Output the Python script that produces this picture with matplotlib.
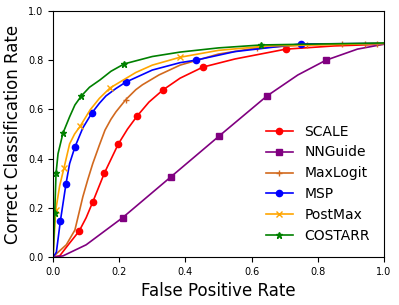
import matplotlib
matplotlib.use("Agg")
import matplotlib.pyplot as plt

# SCALE
scale_fpr = [0, 0.02, 0.05, 0.079, 0.1, 0.12, 0.155, 0.197, 0.225, 0.254, 0.29, 0.332, 0.384, 0.453, 0.55, 0.704, 0.85, 1.0]
scale_ccr = [0, 0.005, 0.057, 0.106, 0.16, 0.224, 0.341, 0.459, 0.52, 0.573, 0.63, 0.679, 0.727, 0.772, 0.805, 0.845, 0.858, 0.865]
scale_marks = [3, 5, 6, 7, 9, 11, 13, 15]

# NNGuide
nng_fpr = [0, 0.03, 0.1, 0.21, 0.357, 0.43, 0.503, 0.646, 0.74, 0.825, 0.92, 1.0]
nng_ccr = [0, 0.005, 0.05, 0.16, 0.327, 0.41, 0.493, 0.654, 0.74, 0.80, 0.845, 0.865]
nng_marks = [3, 4, 6, 7, 9]

# MaxLogit
ml_fpr = [0, 0.012, 0.04, 0.066, 0.09, 0.105, 0.12, 0.14, 0.157, 0.175, 0.19, 0.22, 0.25, 0.27, 0.32, 0.384, 0.5, 0.616, 0.767, 0.873, 0.943, 0.98, 1.0]
ml_ccr = [0, 0.016, 0.05, 0.11, 0.245, 0.315, 0.38, 0.455, 0.516, 0.56, 0.59, 0.64, 0.68, 0.70, 0.74, 0.78, 0.825, 0.85, 0.862, 0.866, 0.867, 0.867, 0.867]
ml_marks = [11, 17, 18, 19, 20, 21]

# MSP
msp_fpr = [0, 0.01, 0.022, 0.039, 0.05, 0.066, 0.09, 0.117, 0.14, 0.16, 0.19, 0.22, 0.3, 0.384, 0.431, 0.55, 0.749, 1.0]
msp_ccr = [0, 0.02, 0.146, 0.297, 0.38, 0.447, 0.525, 0.585, 0.625, 0.655, 0.685, 0.711, 0.76, 0.79, 0.80, 0.835, 0.866, 0.868]
msp_marks = [2, 3, 5, 7, 11, 14, 16]

# PostMax
pm_fpr = [0, 0.008, 0.02, 0.033, 0.05, 0.065, 0.082, 0.112, 0.14, 0.172, 0.25, 0.3, 0.384, 0.5, 0.65, 1.0]
pm_ccr = [0, 0.19, 0.29, 0.362, 0.46, 0.50, 0.532, 0.598, 0.645, 0.687, 0.75, 0.78, 0.812, 0.84, 0.858, 0.868]
pm_marks = [1, 3, 6, 9, 12]

# COSTARR
cs_fpr = [0, 0.003, 0.005, 0.009, 0.015, 0.03, 0.05, 0.066, 0.085, 0.11, 0.142, 0.175, 0.215, 0.3, 0.384, 0.5, 0.63, 1.0]
cs_ccr = [0, 0.1, 0.18, 0.34, 0.42, 0.504, 0.57, 0.618, 0.654, 0.69, 0.72, 0.755, 0.785, 0.815, 0.833, 0.85, 0.862, 0.87]
cs_marks = [2, 3, 5, 8, 12, 16]

fig = plt.figure(figsize=(3.99, 3.05), dpi=100)
ax = fig.add_axes([0.133, 0.157, 0.829, 0.807])

lw = 1.2
ax.plot(scale_fpr, scale_ccr, color='red', marker='o', markersize=4.5, markevery=scale_marks, linewidth=lw, label="SCALE")
ax.plot(nng_fpr, nng_ccr, color='purple', marker='s', markersize=4.5, markevery=nng_marks, linewidth=lw, label="NNGuide")
ax.plot(ml_fpr, ml_ccr, color='chocolate', marker='+', markersize=5, markevery=ml_marks, linewidth=lw, label="MaxLogit")
ax.plot(msp_fpr, msp_ccr, color='blue', marker='o', markersize=4.5, markevery=msp_marks, linewidth=lw, label="MSP")
ax.plot(pm_fpr, pm_ccr, color='orange', marker='x', markersize=4.5, markevery=pm_marks, linewidth=lw, label="PostMax")
ax.plot(cs_fpr, cs_ccr, color='green', marker='*', markersize=5, markevery=cs_marks, linewidth=lw, label="COSTARR")

ax.set_xlim(0, 1)
ax.set_ylim(0, 1)
ax.set_xticks([0, 0.2, 0.4, 0.6, 0.8, 1.0])
ax.set_yticks([0, 0.2, 0.4, 0.6, 0.8, 1.0])
ax.tick_params(labelsize=7)
ax.set_xlabel("False Positive Rate", fontsize=12)
ax.set_ylabel("Correct Classification Rate", fontsize=12)
ax.legend(loc='lower right', frameon=False, fontsize=10, borderaxespad=0.6,
          bbox_to_anchor=(1.0, 0.0))

plt.savefig("out.png", dpi=100)
